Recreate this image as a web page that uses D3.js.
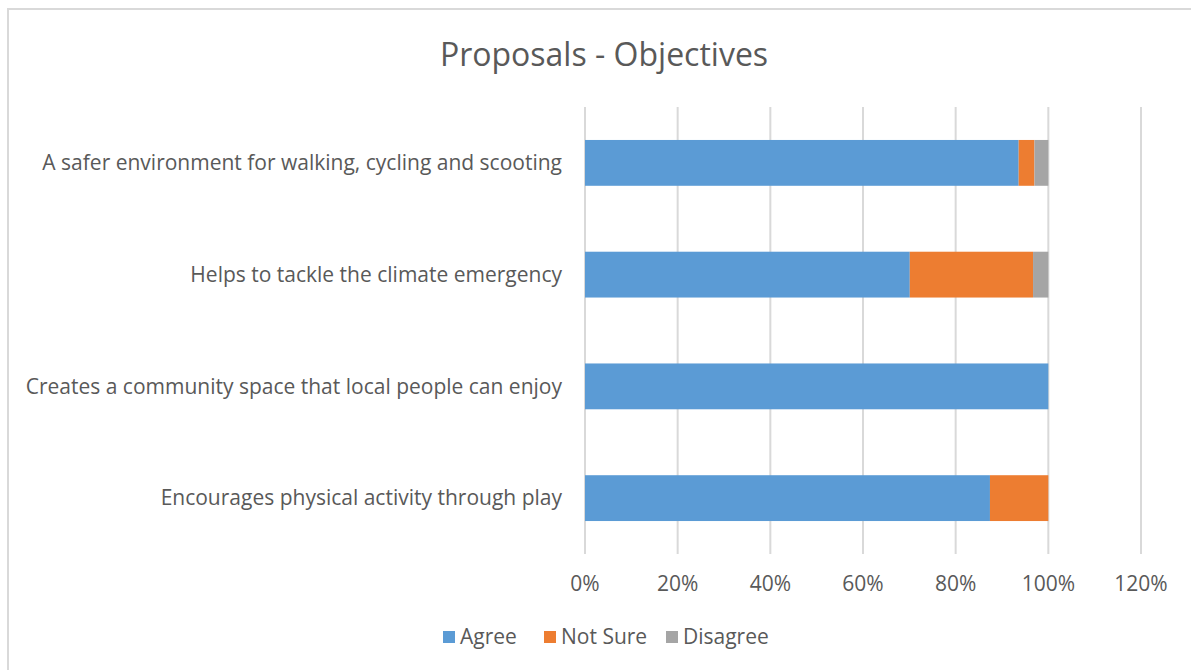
<!DOCTYPE html>
<html>
<head>
<meta charset="utf-8">
<script src="https://cdn.jsdelivr.net/npm/d3@7"></script>
<style>
  body { margin: 0; background: #fff; }
  text { font-family: "Open Sans", Lato, sans-serif; fill: #595959; }
</style>
</head>
<body>
<div id="chart"></div>
<script>
// chart values
var categories = [
  "A safer environment for walking, cycling and scooting",
  "Helps to tackle the climate emergency",
  "Creates a community space that local people can enjoy",
  "Encourages physical activity through play"
];
var seriesNames = ["Agree", "Not Sure", "Disagree"];
var agree    = [93.6, 70.1, 100, 87.4];
var notSure  = [3.4, 26.6, 0, 12.6];
var disagree = [3.0, 3.3, 0, 0];
var tickValues = [0, 20, 40, 60, 80, 100, 120];
var colors = ["#5B9BD5", "#ED7D31", "#A5A5A5"];

var width = 1191, height = 670;
var margin = {top: 107, left: 585, right: 50, bottom: 116};

var svg = d3.select("#chart").append("svg")
    .attr("width", width)
    .attr("height", height);

// chart border
svg.append("rect")
    .attr("x", 8).attr("y", 9)
    .attr("width", width + 10).attr("height", height + 10)
    .attr("fill", "none")
    .attr("stroke", "#d9d9d9")
    .attr("stroke-width", 2);

let x = d3.scaleLinear()
    .domain([0, 120])
    .range([margin.left, 1141]);

let y = d3.scaleBand()
    .domain(categories)
    .range([margin.top, height - margin.bottom])
    .paddingInner(0.59)
    .paddingOuter(0.295);

// title
svg.append("text")
    .attr("x", 604)
    .attr("y", 66)
    .attr("text-anchor", "middle")
    .style("font-size", "32px")
    .text("Proposals - Objectives");

// gridlines
svg.append("g")
    .selectAll("line")
    .data(tickValues)
    .join("line")
    .attr("x1", d => x(d)).attr("x2", d => x(d))
    .attr("y1", margin.top).attr("y2", height - margin.bottom)
    .attr("stroke", "#d9d9d9")
    .attr("stroke-width", 2);

// stacked data
let rows = categories.map((c, i) => ({
  category: c, "Agree": agree[i], "Not Sure": notSure[i], "Disagree": disagree[i]
}));
let stacked = d3.stack().keys(seriesNames)(rows);

svg.append("g")
    .selectAll("g")
    .data(stacked)
    .join("g")
    .attr("fill", (d, i) => colors[i])
    .selectAll("rect")
    .data(d => d.filter(p => p[1] - p[0] > 0))
    .join("rect")
    .attr("x", d => x(d[0]))
    .attr("y", d => y(d.data.category))
    .attr("width", d => x(d[1]) - x(d[0]))
    .attr("height", y.bandwidth());

// category labels
svg.append("g")
    .selectAll("text")
    .data(categories)
    .join("text")
    .attr("x", margin.left - 23)
    .attr("y", d => y(d) + y.bandwidth() / 2)
    .attr("dy", "0.35em")
    .attr("text-anchor", "end")
    .style("font-size", "21px")
    .text(d => d);

// x tick labels
svg.append("g")
    .selectAll("text")
    .data(tickValues)
    .join("text")
    .attr("x", d => x(d))
    .attr("y", 591)
    .attr("text-anchor", "middle")
    .style("font-size", "21px")
    .text(d => d + "%");

// legend
let legendX = [443, 544, 666];
let legend = svg.append("g")
    .selectAll("g")
    .data(seriesNames)
    .join("g")
    .attr("transform", (d, i) => "translate(" + legendX[i] + ",637)");

legend.append("rect")
    .attr("x", 0).attr("y", -6)
    .attr("width", 12).attr("height", 12)
    .attr("fill", (d, i) => colors[i]);

legend.append("text")
    .attr("x", 17)
    .attr("dy", "0.35em")
    .style("font-size", "21px")
    .text(d => d);
</script>
</body>
</html>
